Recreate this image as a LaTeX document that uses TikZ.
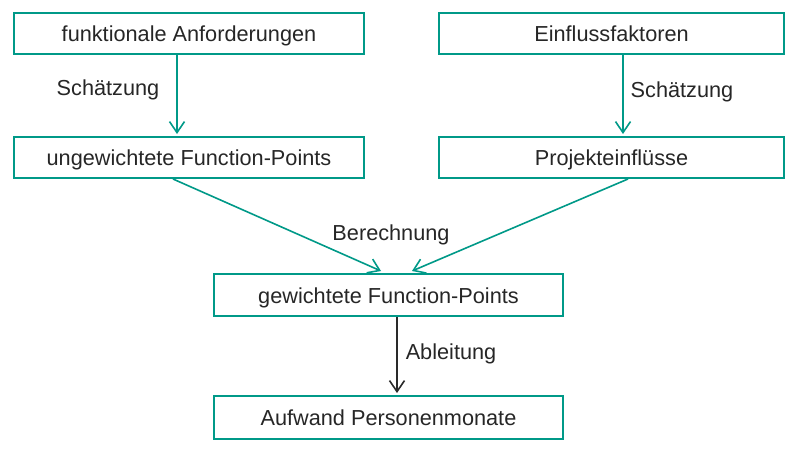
\documentclass[tikz,border=0pt]{standalone}
\usepackage{fontspec}
\setmainfont{Liberation Sans}
\usetikzlibrary{arrows.meta}
\definecolor{teal1}{HTML}{009988}
\definecolor{txt}{HTML}{262626}
\definecolor{darkarr}{HTML}{2A2A2A}
\begin{document}
\begin{tikzpicture}[x=1pt,y=-1pt,
  box/.style={draw=teal1,line width=2pt,rectangle,minimum height=41pt,inner sep=0pt,text height=16pt,text depth=0pt,text=txt,font=\fontsize{21.7}{26}\selectfont},
  lbl/.style={text=txt,inner sep=0pt,text height=16pt,text depth=0pt,font=\fontsize{21.7}{26}\selectfont},
  arr/.style={draw=teal1,line width=1.6pt,-{Straight Barb[length=11pt,width=15pt,line width=1.6pt]}},
  arrk/.style={draw=darkarr,line width=1.6pt,-{Straight Barb[length=11pt,width=15pt,line width=1.6pt]}}]
\useasboundingbox (0,0) rectangle (808,458);
\node[box,minimum width=350pt] (fa) at (189,33.5) {funktionale Anforderungen};
\node[box,minimum width=345pt] (ef) at (611.5,33.5) {Einflussfaktoren};
\node[box,minimum width=350pt] (ug) at (189,157.5) {ungewichtete Function-Points};
\node[box,minimum width=345pt] (pe) at (611.5,157.5) {Projekteinflüsse};
\node[box,minimum width=349pt,minimum height=42pt] (gw) at (388.5,295) {gewichtete Function-Points};
\node[box,minimum width=349pt,minimum height=43pt] (au) at (388.5,417.5) {Aufwand Personenmonate};
\draw[arr] ([xshift=-12pt]fa.south) -- ([xshift=-12pt,yshift=2pt]ug.north);
\draw[arr] ([xshift=11.5pt]ef.south) -- ([xshift=11.5pt,yshift=2pt]pe.north);
\draw[arr] ([xshift=-16pt]ug.south) -- ([xshift=-7.5pt,yshift=2pt]gw.north);
\draw[arr] ([xshift=16.5pt]pe.south) -- ([xshift=23.5pt,yshift=2pt]gw.north);
\draw[arrk] ([xshift=8.5pt]gw.south) -- ([xshift=8.5pt,yshift=2pt]au.north);
\node[lbl] (l1) at (108,87) {Schätzung};
\node[lbl] (l2) at (682,89) {Schätzung};
\node[lbl] (l3) at (391,232) {Berechnung};
\node[lbl] (l4) at (451,351) {Ableitung};
\end{tikzpicture}
\end{document}
